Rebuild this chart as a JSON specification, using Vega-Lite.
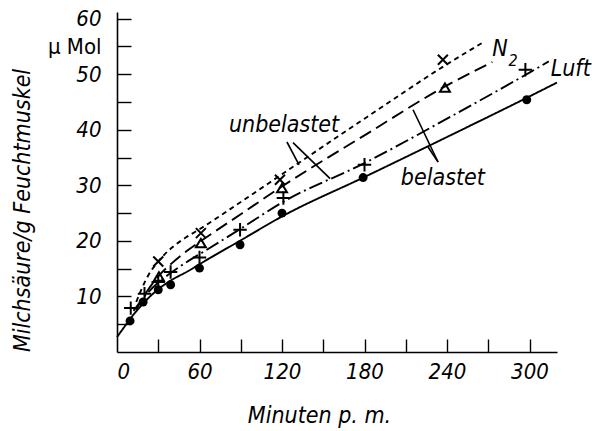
{
  "$schema": "https://vega.github.io/schema/vega-lite/v6.json",
  "width": 440,
  "height": 340,
  "autosize": {"type": "none"},
  "padding": {"left": 117, "top": 12, "right": 35, "bottom": 79},
  "background": "white",
  "config": {
    "view": {"stroke": null},
    "font": "DejaVu Sans Condensed",
    "axis": {
      "grid": false,
      "domainColor": "black",
      "domainWidth": 1.6,
      "tickColor": "black",
      "tickWidth": 1.4,
      "labelColor": "black",
      "labelFont": "DejaVu Sans Condensed",
      "labelFontStyle": "italic",
      "labelFontSize": 22,
      "labelOverlap": false,
      "titleColor": "black",
      "titleFont": "DejaVu Sans Condensed",
      "titleFontStyle": "italic",
      "titleFontWeight": "normal",
      "titleFontSize": 23
    }
  },
  "resolve": {"axis": {"x": "independent", "y": "independent"}},
  "datasets": {
    "curves": [
      {"series": "Luft belastet", "x": 0, "y": 2.7},
      {"series": "Luft belastet", "x": 5, "y": 4.4},
      {"series": "Luft belastet", "x": 10, "y": 6.1},
      {"series": "Luft belastet", "x": 20, "y": 9.0},
      {"series": "Luft belastet", "x": 30, "y": 11.3},
      {"series": "Luft belastet", "x": 40, "y": 13.0},
      {"series": "Luft belastet", "x": 52, "y": 14.6},
      {"series": "Luft belastet", "x": 60, "y": 15.8},
      {"series": "Luft belastet", "x": 90, "y": 20.1},
      {"series": "Luft belastet", "x": 120, "y": 24.4},
      {"series": "Luft belastet", "x": 180, "y": 31.5},
      {"series": "Luft belastet", "x": 240, "y": 38.7},
      {"series": "Luft belastet", "x": 300, "y": 46.0},
      {"series": "Luft belastet", "x": 320, "y": 48.5},
      {"series": "Luft unbelastet", "x": 12, "y": 7.4},
      {"series": "Luft unbelastet", "x": 20, "y": 10.0},
      {"series": "Luft unbelastet", "x": 30, "y": 12.5},
      {"series": "Luft unbelastet", "x": 40, "y": 14.4},
      {"series": "Luft unbelastet", "x": 52, "y": 16.4},
      {"series": "Luft unbelastet", "x": 60, "y": 17.6},
      {"series": "Luft unbelastet", "x": 90, "y": 22.2},
      {"series": "Luft unbelastet", "x": 120, "y": 26.9},
      {"series": "Luft unbelastet", "x": 180, "y": 34.0},
      {"series": "Luft unbelastet", "x": 240, "y": 42.0},
      {"series": "Luft unbelastet", "x": 300, "y": 50.3},
      {"series": "Luft unbelastet", "x": 314, "y": 52.3},
      {"series": "N2 belastet", "x": 14, "y": 7.6},
      {"series": "N2 belastet", "x": 21, "y": 10.6},
      {"series": "N2 belastet", "x": 30, "y": 13.6},
      {"series": "N2 belastet", "x": 40, "y": 16.0},
      {"series": "N2 belastet", "x": 52, "y": 18.4},
      {"series": "N2 belastet", "x": 60, "y": 19.8},
      {"series": "N2 belastet", "x": 90, "y": 24.8},
      {"series": "N2 belastet", "x": 120, "y": 29.8},
      {"series": "N2 belastet", "x": 180, "y": 39.0},
      {"series": "N2 belastet", "x": 240, "y": 48.0},
      {"series": "N2 belastet", "x": 273, "y": 52.2},
      {"series": "N2 unbelastet", "x": 14, "y": 9.0},
      {"series": "N2 unbelastet", "x": 18, "y": 11.4},
      {"series": "N2 unbelastet", "x": 23, "y": 13.9},
      {"series": "N2 unbelastet", "x": 30, "y": 16.3},
      {"series": "N2 unbelastet", "x": 40, "y": 18.8},
      {"series": "N2 unbelastet", "x": 50, "y": 20.6},
      {"series": "N2 unbelastet", "x": 60, "y": 22.1},
      {"series": "N2 unbelastet", "x": 90, "y": 27.0},
      {"series": "N2 unbelastet", "x": 120, "y": 32.0},
      {"series": "N2 unbelastet", "x": 180, "y": 42.0},
      {"series": "N2 unbelastet", "x": 240, "y": 51.8},
      {"series": "N2 unbelastet", "x": 266, "y": 55.7}
    ],
    "points": [
      {"marker": "dot", "x": 9.5, "y": 5.6},
      {"marker": "dot", "x": 19, "y": 9.0},
      {"marker": "dot", "x": 30, "y": 11.2},
      {"marker": "dot", "x": 39, "y": 12.1},
      {"marker": "dot", "x": 60, "y": 15.1},
      {"marker": "dot", "x": 89.5, "y": 19.3},
      {"marker": "dot", "x": 120, "y": 25.0},
      {"marker": "dot", "x": 179, "y": 31.4},
      {"marker": "dot", "x": 298, "y": 45.4},
      {"marker": "plus", "x": 10, "y": 7.9},
      {"marker": "plus", "x": 20, "y": 10.5},
      {"marker": "plus", "x": 30, "y": 12.6},
      {"marker": "plus", "x": 39, "y": 14.4},
      {"marker": "plus", "x": 60, "y": 17.0},
      {"marker": "plus", "x": 89.5, "y": 22.0},
      {"marker": "plus", "x": 121, "y": 27.7},
      {"marker": "plus", "x": 180, "y": 33.7},
      {"marker": "plus", "x": 297, "y": 50.8},
      {"marker": "cross", "x": 30, "y": 16.3},
      {"marker": "cross", "x": 61, "y": 21.4},
      {"marker": "cross", "x": 118.5, "y": 31.0},
      {"marker": "cross", "x": 237, "y": 52.6},
      {"marker": "triangle", "x": 30.5, "y": 13.6},
      {"marker": "triangle", "x": 61, "y": 19.6},
      {"marker": "triangle", "x": 120, "y": 29.5},
      {"marker": "triangle", "x": 238.5, "y": 47.6}
    ],
    "labels": [
      {"text": "unbelastet", "x": 121.5, "y": 40.9, "kind": "big"},
      {"text": "belastet", "x": 237, "y": 31.4, "kind": "big"},
      {"text": "N", "x": 278.5, "y": 54.6, "kind": "big"},
      {"text": "2", "x": 288, "y": 52.4, "kind": "small"},
      {"text": "Luft", "x": 330, "y": 51.0, "kind": "big"}
    ],
    "pointers": [
      {"x": 123.6, "y": 37.8, "x2": 132.4, "y2": 33.7},
      {"x": 128, "y": 37.7, "x2": 155, "y2": 31.2},
      {"x": 215.3, "y": 43.6, "x2": 233.5, "y2": 34.2},
      {"x": 226.2, "y": 36.9, "x2": 233.5, "y2": 34.2}
    ]
  },
  "layer": [
    {
      "data": {"name": "curves"},
      "mark": {"type": "line", "interpolate": "monotone", "color": "black", "strokeWidth": 1.9},
      "encoding": {
        "x": {
          "field": "x", "type": "quantitative",
          "scale": {"domain": [0, 320], "nice": false},
          "axis": {
            "title": "Minuten p. m.",
            "values": [0, 60, 120, 180, 240, 300],
            "ticks": false,
            "labelPadding": 9,
            "titleX": 202,
            "titleY": 63,
            "titleBaseline": "middle"
          }
        },
        "y": {
          "field": "y", "type": "quantitative",
          "scale": {"domain": [0, 61.2], "nice": false},
          "axis": {
            "title": "Milchsäure/g Feuchtmuskel",
            "values": [10, 20, 30, 40, 50, 55, 60],
            "labelExpr": "datum.value == 55 ? 'µ Mol' : datum.label",
            "labelFontStyle": {"condition": {"test": "datum.value == 55", "value": "normal"}, "value": "italic"},
            "ticks": false,
            "labelPadding": 16,
            "titleX": -95,
            "titleY": 198,
            "titleBaseline": "middle"
          }
        },
        "detail": {"field": "series"},
        "strokeDash": {
          "field": "series", "type": "nominal", "legend": null,
          "scale": {
            "domain": ["Luft belastet", "Luft unbelastet", "N2 belastet", "N2 unbelastet"],
            "range": [[1, 0], [14, 4, 2, 4], [13, 6], [5, 4]]
          }
        }
      }
    },
    {
      "data": {"name": "pointers"},
      "mark": {"type": "rule", "color": "black", "strokeWidth": 1.6},
      "encoding": {
        "x": {
          "field": "x", "type": "quantitative",
          "axis": {
            "orient": "top", "offset": -340, "title": null, "labels": false, "domain": false,
            "values": [30, 60, 90, 120, 150, 180, 210, 240, 270, 300],
            "tickSize": 13
          }
        },
        "y": {
          "field": "y", "type": "quantitative",
          "axis": {
            "orient": "right", "offset": -440, "title": null, "labels": false, "domain": false,
            "values": [5, 10, 15, 20, 25, 30, 35, 40, 45, 50, 55, 60],
            "tickSize": 14
          }
        },
        "x2": {"field": "x2"},
        "y2": {"field": "y2"}
      }
    },
    {
      "data": {"name": "points"},
      "transform": [{"filter": "datum.marker == 'dot'"}],
      "mark": {"type": "point", "shape": "circle", "filled": true, "color": "black", "size": 80, "opacity": 1},
      "encoding": {
        "x": {"field": "x", "type": "quantitative", "axis": null},
        "y": {"field": "y", "type": "quantitative", "axis": null}
      }
    },
    {
      "data": {"name": "points"},
      "transform": [{"filter": "datum.marker == 'plus'"}],
      "mark": {"type": "point", "shape": "M-1,0L1,0M0,-1L0,1", "filled": false, "color": "black", "size": 180, "strokeWidth": 2, "opacity": 1},
      "encoding": {
        "x": {"field": "x", "type": "quantitative", "axis": null},
        "y": {"field": "y", "type": "quantitative", "axis": null}
      }
    },
    {
      "data": {"name": "points"},
      "transform": [{"filter": "datum.marker == 'cross'"}],
      "mark": {"type": "point", "shape": "M-1,-1L1,1M-1,1L1,-1", "filled": false, "color": "black", "size": 100, "strokeWidth": 2, "opacity": 1},
      "encoding": {
        "x": {"field": "x", "type": "quantitative", "axis": null},
        "y": {"field": "y", "type": "quantitative", "axis": null}
      }
    },
    {
      "data": {"name": "points"},
      "transform": [{"filter": "datum.marker == 'triangle'"}],
      "mark": {"type": "point", "shape": "M0,-0.8L0.95,0.8L-0.95,0.8Z", "filled": false, "color": "black", "size": 110, "strokeWidth": 2, "opacity": 1},
      "encoding": {
        "x": {"field": "x", "type": "quantitative", "axis": null},
        "y": {"field": "y", "type": "quantitative", "axis": null}
      }
    },
    {
      "data": {"name": "labels"},
      "transform": [{"filter": "datum.kind == 'big'"}],
      "mark": {"type": "text", "font": "DejaVu Sans Condensed", "fontStyle": "italic", "fontSize": 23, "color": "black", "align": "center", "baseline": "middle"},
      "encoding": {
        "x": {"field": "x", "type": "quantitative", "axis": null},
        "y": {"field": "y", "type": "quantitative", "axis": null},
        "text": {"field": "text"}
      }
    },
    {
      "data": {"name": "labels"},
      "transform": [{"filter": "datum.kind == 'small'"}],
      "mark": {"type": "text", "font": "DejaVu Sans Condensed", "fontStyle": "italic", "fontSize": 16, "color": "black", "align": "center", "baseline": "middle"},
      "encoding": {
        "x": {"field": "x", "type": "quantitative", "axis": null},
        "y": {"field": "y", "type": "quantitative", "axis": null},
        "text": {"field": "text"}
      }
    }
  ]
}
